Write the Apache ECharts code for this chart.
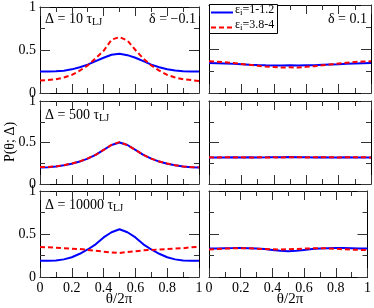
<!DOCTYPE html>
<html><head><meta charset="utf-8">
<script src="https://cdn.jsdelivr.net/npm/echarts@6/dist/echarts.min.js"></script>
<style>html,body{margin:0;padding:0;background:#fff}#c{width:374px;height:308px}</style>
</head><body><div id="c"></div>
<script>
var theta = [0,0.05,0.1,0.15,0.2,0.25,0.3,0.35,0.4,0.45,0.5,0.55,0.6,0.65,0.7,0.75,0.8,0.85,0.9,0.95,1];
var xTicks = [0,0.2,0.4,0.6,0.8,1];
var yTicks = [0,0.5,1];
var legendNames = ["1-1.2","3.8-4"];
var panelLabels = ["10","500","10000"];
var deltaLabels = ["\u22120.1","0.1"];

// Row 1: Δ = 10 τLJ
var p1L_blue = [0.25,0.25,0.252,0.26,0.275,0.3,0.33,0.37,0.41,0.445,0.457,0.44,0.41,0.37,0.33,0.3,0.277,0.262,0.253,0.25,0.25];
var p1L_red  = [0.145,0.15,0.16,0.18,0.21,0.26,0.32,0.405,0.49,0.62,0.65,0.61,0.5,0.4,0.32,0.26,0.21,0.18,0.16,0.15,0.14];
var p1R_blue = [0.34,0.338,0.335,0.333,0.328,0.322,0.318,0.315,0.313,0.312,0.314,0.313,0.315,0.316,0.32,0.324,0.328,0.333,0.336,0.338,0.34];
var p1R_red  = [0.36,0.355,0.35,0.34,0.33,0.32,0.31,0.3,0.295,0.29,0.292,0.29,0.298,0.305,0.315,0.325,0.335,0.345,0.352,0.358,0.36];
// Row 2: Δ = 500 τLJ
var p2L_blue = [0.2,0.203,0.21,0.225,0.245,0.27,0.305,0.35,0.41,0.47,0.5,0.47,0.41,0.35,0.305,0.27,0.245,0.225,0.21,0.203,0.2];
var p2L_red  = [0.205,0.205,0.212,0.227,0.248,0.272,0.308,0.352,0.41,0.472,0.505,0.468,0.412,0.352,0.305,0.27,0.247,0.226,0.212,0.205,0.2];
var p2R_blue = [0.318,0.32,0.319,0.321,0.32,0.322,0.32,0.321,0.323,0.322,0.324,0.322,0.321,0.32,0.322,0.32,0.319,0.321,0.32,0.319,0.32];
var p2R_red  = [0.322,0.32,0.323,0.32,0.322,0.319,0.322,0.32,0.321,0.32,0.322,0.323,0.32,0.322,0.321,0.323,0.32,0.322,0.321,0.322,0.32];
// Row 3: Δ = 10000 τLJ
var p3L_blue = [0.19,0.19,0.193,0.205,0.23,0.27,0.32,0.38,0.46,0.52,0.555,0.52,0.46,0.38,0.32,0.27,0.23,0.205,0.193,0.19,0.19];
var p3L_red  = [0.35,0.345,0.34,0.335,0.33,0.325,0.315,0.305,0.295,0.285,0.28,0.29,0.3,0.31,0.315,0.32,0.325,0.33,0.335,0.345,0.35];
var p3R_blue = [0.33,0.332,0.335,0.336,0.338,0.335,0.33,0.325,0.315,0.305,0.3,0.305,0.315,0.325,0.33,0.335,0.338,0.336,0.333,0.33,0.33];
var p3R_red  = [0.32,0.325,0.33,0.333,0.335,0.333,0.33,0.325,0.322,0.32,0.322,0.325,0.33,0.333,0.335,0.333,0.328,0.322,0.318,0.315,0.312];

var blues = [p1L_blue,p1R_blue,p2L_blue,p2R_blue,p3L_blue,p3R_blue];
var reds  = [p1L_red,p1R_red,p2L_red,p2R_red,p3L_red,p3R_red];

var FONT = '"Liberation Serif","DejaVu Serif",serif';
var rows = [{top:5,h:88},{top:101,h:83},{top:191,h:86}];
var cols = [{left:40,w:159},{left:209,w:162}];

function pairs(v){ return theta.map(function(t,i){return [t,v[i]];}); }

var grids=[], xAxes=[], yAxes=[], series=[];
var k=0;
rows.forEach(function(r,ri){
  cols.forEach(function(c,ci){
    grids.push({left:c.left, top:r.top, width:c.w, height:r.h, show:false});
    var showX = ri===2, showY = ci===0;
    var baseX = {gridIndex:k, type:'value', min:0, max:1, interval:0.2,
      axisLine:{show:true,onZero:false,lineStyle:{color:'#000',width:1}},
      axisTick:{show:true,inside:true,length:9,lineStyle:{color:'#333',width:1}},
      minorTick:{show:true,splitNumber:2,length:5,lineStyle:{color:'#333',width:1}},
      splitLine:{show:false}, minorSplitLine:{show:false}};
    xAxes.push(Object.assign({}, baseX, {position:'bottom',
      axisLabel:{show:showX,fontFamily:FONT,fontSize:14,color:'#000',margin:4,
        formatter:function(v){ var r=Math.round(v*10)/10; return xTicks.indexOf(r)>=0?String(r):''; }}}));
    xAxes.push(Object.assign({}, baseX, {position:'top', axisLabel:{show:false}}));
    var baseY = {gridIndex:k, type:'value', min:0, max:1, interval:0.5,
      axisLine:{show:true,onZero:false,lineStyle:{color:'#000',width:1}},
      axisTick:{show:true,inside:true,length:10,lineStyle:{color:'#333',width:1}},
      minorTick:{show:true,splitNumber:2,length:5,lineStyle:{color:'#333',width:1}},
      splitLine:{show:false}, minorSplitLine:{show:false}};
    yAxes.push(Object.assign({}, baseY, {position:'left',
      axisLabel:{show:showY,fontFamily:FONT,fontSize:14,color:'#000',margin:4,
        formatter:function(v){ return yTicks.indexOf(v)>=0?String(v):''; }}}));
    yAxes.push(Object.assign({}, baseY, {position:'right', axisLabel:{show:false}}));
    series.push({type:'line', name:legendNames[1], xAxisIndex:2*k, yAxisIndex:2*k, data:pairs(reds[k]),
      showSymbol:false, smooth:false, lineStyle:{color:'#ff0000',width:2,type:[5,3]}, z:3, animation:false});
    series.push({type:'line', name:legendNames[0], xAxisIndex:2*k, yAxisIndex:2*k, data:pairs(blues[k]),
      showSymbol:false, smooth:false, lineStyle:{color:'#0000ff',width:2}, z:2, animation:false});
    k++;
  });
});

var rich = {n:{fontFamily:FONT,fontSize:14,color:'#000'}, s:{fontFamily:FONT,fontSize:10,color:'#000',padding:[6,0,0,0]}};
var lrich = {n:{fontFamily:FONT,fontSize:12,color:'#000'}, s:{fontFamily:FONT,fontSize:9,color:'#000',padding:[6,0,0,0]}};

var graphics = [];
rows.forEach(function(r,ri){
  graphics.push({type:'text', left:45, top:r.top+7, style:{text:'{n|\u0394 = '+panelLabels[ri]+' \u03c4}{s|LJ}', rich:rich}});
});
graphics.push({type:'text', right:374-196, top:12, style:{text:'\u03b4 = '+deltaLabels[0], font:'14px '+FONT, fill:'#000', textAlign:'right'}});
graphics.push({type:'text', left:328, top:12, style:{text:'\u03b4 = '+deltaLabels[1], font:'14px '+FONT, fill:'#000'}});
// legend box
graphics.push({type:'rect', shape:{x:209.5,y:4.5,width:68,height:29}, style:{fill:'#fff',stroke:'#000',lineWidth:1}, z:10});
graphics.push({type:'line', shape:{x1:211,y1:12.5,x2:233,y2:12.5}, style:{stroke:'#0000ff',lineWidth:2}, z:11});
graphics.push({type:'line', shape:{x1:211,y1:27.5,x2:233,y2:27.5}, style:{stroke:'#ff0000',lineWidth:2,lineDash:[5,3]}, z:11});
graphics.push({type:'text', left:235, top:4, z:11, style:{text:'{n|\u03b5}{s|i}{n|='+legendNames[0]+'}', rich:lrich}});
graphics.push({type:'text', left:235, top:19, z:11, style:{text:'{n|\u03b5}{s|i}{n|='+legendNames[1]+'}', rich:lrich}});
// axis titles
graphics.push({type:'text', x:10, y:142, rotation:Math.PI/2, style:{text:'P(\u03b8; \u0394)', font:'14px '+FONT, fill:'#000', textAlign:'center', textVerticalAlign:'middle'}});
graphics.push({type:'text', x:119, y:299, style:{text:'\u03b8/2\u03c0', font:'15px '+FONT, fill:'#000', textAlign:'center', textVerticalAlign:'middle'}});
graphics.push({type:'text', x:290, y:299, style:{text:'\u03b8/2\u03c0', font:'15px '+FONT, fill:'#000', textAlign:'center', textVerticalAlign:'middle'}});

var chart = echarts.init(document.getElementById('c'), null, {renderer:'canvas'});
chart.setOption({animation:false, grid:grids, xAxis:xAxes, yAxis:yAxes, series:series, graphic:graphics});
</script></body></html>
